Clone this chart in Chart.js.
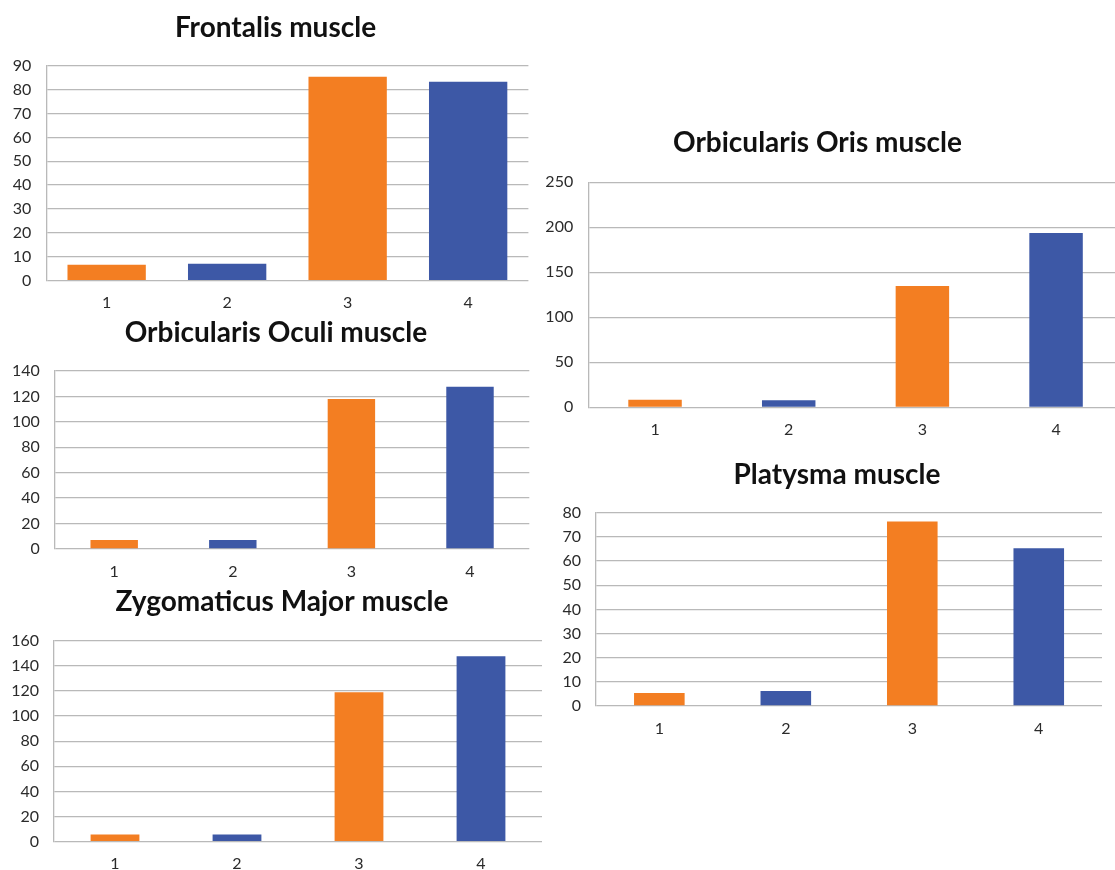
<!DOCTYPE html>
<html>
<head>
<meta charset="utf-8">
<script src="https://cdn.jsdelivr.net/npm/chart.js@4.4.1/dist/chart.umd.min.js"></script>
<style>
  html, body { margin: 0; padding: 0; background: #fff; width: 1115px; height: 870px; overflow: hidden; position: relative; }
  canvas { position: absolute; }
</style>
</head>
<body>
<script>
// Category labels shared by all five panels
const categories = ['1', '2', '3', '4'];

// Values per muscle (bars 1..4)
const frontalis        = [6.7, 7.1, 85.4, 83.3];
const orbicularisOculi = [7.1, 7.1, 118, 127.7];
const zygomaticusMajor = [5.8, 5.8, 119, 147.6];
const orbicularisOris  = [8.5, 7.8, 134.8, 193.7];
const platysma         = [5.4, 6.2, 76.4, 65.3];

// Panel titles
const titles = ['Frontalis muscle', 'Orbicularis Oculi muscle', 'Zygomaticus Major muscle',
                'Orbicularis Oris muscle', 'Platysma muscle'];

// Y-axis ranges (max and step of tick labels)
const axisMax  = [90, 140, 160, 250, 80];
const axisStep = [10, 20, 20, 50, 10];

const ORANGE = '#F37E22';
const BLUE = '#3D58A6';
const GRID = '#b9b9b9';
const FONT = 'Lato, "Open Sans", sans-serif';

// Page placement of each panel: plot box (L,R,T,B), title centre / baseline, bar fraction
const layout = [
  { L: 46.4,  R: 528.4,  T: 65.7,  B: 280.7, cx: 275.5, base: 35,    bar: 0.65 },
  { L: 54.9,  R: 529.3,  T: 371,   B: 549,   cx: 276,   base: 340,   bar: 0.4 },
  { L: 54,    R: 542,    T: 640.7, B: 841.7, cx: 282,   base: 609.3, bar: 0.4 },
  { L: 588.2, R: 1122.9, T: 182.3, B: 407.3, cx: 817.2, base: 150.7, bar: 0.4 },
  { L: 596.1, R: 1102,   T: 512.7, B: 706,   cx: 837,   base: 482.7, bar: 0.4 }
];

const series = [frontalis, orbicularisOculi, zygomaticusMajor, orbicularisOris, platysma];

const TITLE_SIZE = 28;
const TITLE_LINE = TITLE_SIZE * 1.2;
const TICK_SIZE = 16;

function drawPanel(i) {
  const g = layout[i];
  // canvas is symmetric about the title centre so the full-width title lands there
  const half = Math.max(g.R + 6 - g.cx, g.cx - g.L + 45);
  const left = Math.round(g.cx - half);
  const right = Math.round(g.cx + half);
  const top = Math.round(g.base - 0.27 * TITLE_SIZE - TITLE_LINE / 2);
  const bottom = Math.round(g.B + 40);

  const c = document.createElement('canvas');
  c.width = right - left;
  c.height = bottom - top;
  c.style.left = left + 'px';
  c.style.top = top + 'px';
  document.body.appendChild(c);

  new Chart(c, {
    type: 'bar',
    data: {
      labels: categories,
      datasets: [{
        data: series[i],
        backgroundColor: [ORANGE, BLUE, ORANGE, BLUE],
        borderWidth: 0,
        categoryPercentage: 1,
        barPercentage: g.bar
      }]
    },
    options: {
      responsive: false,
      animation: false,
      events: [],
      layout: { padding: 0 },
      plugins: {
        legend: { display: false },
        tooltip: { enabled: false },
        title: {
          display: true,
          text: titles[i],
          color: '#111',
          font: { family: FONT, size: TITLE_SIZE, weight: 'bold', lineHeight: 1.2 },
          padding: { top: 0, bottom: g.T - top - TITLE_LINE }
        }
      },
      scales: {
        x: {
          grid: { display: false, drawTicks: false },
          border: { display: false },
          ticks: { color: '#2b2b2b', font: { family: FONT, size: TICK_SIZE }, padding: 13 },
          afterFit(s) { s.height = bottom - g.B; }
        },
        y: {
          min: 0,
          max: axisMax[i],
          ticks: { stepSize: axisStep[i], color: '#2b2b2b', font: { family: FONT, size: TICK_SIZE }, padding: 15 },
          grid: { color: GRID, lineWidth: 1.3, drawTicks: false },
          border: { display: true, color: GRID, width: 1.3 },
          afterFit(s) { s.width = g.L - left; }
        },
        // blank right-hand margin axis, keeps the plot's right edge in place
        margin: {
          type: 'linear',
          position: 'right',
          grid: { display: false, drawTicks: false },
          border: { display: false },
          ticks: { display: false },
          afterFit(s) { s.width = right - g.R; }
        }
      }
    }
  });
}

const ready = document.fonts && document.fonts.load
  ? Promise.all([document.fonts.load('bold 28px Lato'), document.fonts.load('16px Lato')]).catch(() => {})
  : Promise.resolve();
ready.then(() => { for (let i = 0; i < series.length; i++) drawPanel(i); });
</script>
</body>
</html>
